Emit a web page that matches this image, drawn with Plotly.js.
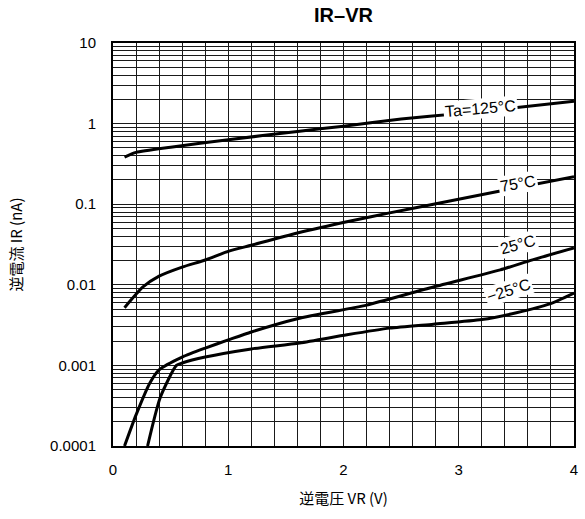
<!DOCTYPE html>
<html>
<head>
<meta charset="utf-8">
<script src="https://cdn.plot.ly/plotly-3.0.1.min.js"></script>
<style>html,body{margin:0;padding:0;background:#fff;}#chart{width:585px;height:519px;}</style>
</head>
<body>
<div id="chart"></div>
<script>
// Data
const vr125 = [0.1, 0.2, 0.5, 1.0, 1.6, 2.0, 2.5, 3.0, 3.4, 4.0];
const ir125 = [0.385, 0.44, 0.51, 0.63, 0.80, 0.93, 1.14, 1.33, 1.52, 1.9];

const vr75 = [0.1, 0.26, 0.4, 0.6, 0.8, 1.0, 1.2, 1.6, 2.06, 2.4, 2.78, 3.36, 4.0];
const ir75 = [0.0052, 0.0094, 0.0128, 0.0166, 0.0203, 0.026, 0.031, 0.044, 0.062, 0.078, 0.10, 0.146, 0.22];

const vr25 = [0.1, 0.2, 0.32, 0.4, 0.6, 0.8, 1.0, 1.2, 1.6, 2.06, 2.2, 2.78, 3.36, 3.64, 4.0];
const ir25 = [0.0001, 0.000243, 0.000605, 0.00088, 0.00127, 0.00164, 0.00207, 0.0026, 0.0038, 0.0051, 0.0056, 0.0094, 0.0153, 0.0204, 0.0286];

const vrm25 = [0.3, 0.41, 0.55, 0.6, 0.8, 1.2, 1.62, 2.03, 2.4, 2.78, 3.2, 3.5, 3.79, 4.0];
const irm25 = [0.0001, 0.0004, 0.001, 0.00107, 0.00127, 0.0016, 0.0019, 0.0024, 0.0029, 0.00325, 0.0037, 0.0045, 0.0058, 0.0079];

const curveLabels = ["Ta=125°C", "75°C", "25°C", "−25°C"];
const xTicks = [0, 1, 2, 3, 4];
const yTicks = [0.0001, 0.001, 0.01, 0.1, 1, 10];
const yTickText = ["0.0001", "0.001", "0.01", "0.1", "1", "10"];

const lineStyle = {color: '#000', width: 3, shape: 'spline', smoothing: 0.6};
const traces = [
  {x: vr125, y: ir125},
  {x: vr75, y: ir75},
  {x: vr25, y: ir25},
  {x: vrm25, y: irm25}
].map(t => Object.assign(t, {type: 'scatter', mode: 'lines', line: lineStyle, hoverinfo: 'skip', showlegend: false}));

// minor grid values for log axis
const yMinor = [];
for (let e = -4; e < 1; e++) for (let m = 2; m <= 9; m++) yMinor.push(m * Math.pow(10, e));

const labelPos = [
  {x: 0.881, y: 0.871, a: -5},
  {x: 0.926, y: 0.685, a: -10},
  {x: 0.926, y: 0.499, a: -15},
  {x: 0.915, y: 0.387, a: -18}
];
const annotations = curveLabels.map((t, i) => ({
  text: t, xref: 'paper', yref: 'paper', x: labelPos[i].x, y: labelPos[i].y,
  showarrow: false, textangle: labelPos[i].a, bgcolor: '#fff', borderpad: 1,
  font: {family: 'Liberation Sans, Arial, sans-serif', size: 16, color: '#000'}
}));

const gridCol = '#1a1a1a';
const layout = {
  width: 585, height: 519,
  margin: {l: 113, r: 11, t: 43, b: 73},
  paper_bgcolor: '#fff', plot_bgcolor: '#fff',
  title: {text: '<b>IR–VR</b>', x: 0.5, xanchor: 'center', y: 0.971, yanchor: 'middle',
    xref: 'paper', font: {family: 'Liberation Sans, Arial, sans-serif', size: 20, color: '#000'}},
  xaxis: {
    range: [0, 4], tickvals: xTicks, ticks: '', showline: true, linewidth: 2, linecolor: '#000', mirror: true,
    showgrid: true, gridcolor: gridCol, gridwidth: 1, zeroline: false, ticklabelstandoff: 9,
    minor: {dtick: 0.2, showgrid: true, gridcolor: gridCol, gridwidth: 1, ticks: ''},
    tickfont: {family: 'Liberation Sans, Arial, sans-serif', size: 15, color: '#000'},
    title: {text: '逆電圧 VR (V)', standoff: 16, font: {family: 'Noto Sans CJK JP, sans-serif', size: 15, color: '#000'}}
  },
  yaxis: {
    type: 'log', range: [-4, 1], tickvals: yTicks, ticktext: yTickText, ticks: '',
    showline: true, linewidth: 2, linecolor: '#000', mirror: true, ticklabelstandoff: 12,
    showgrid: true, gridcolor: gridCol, gridwidth: 1, zeroline: false,
    minor: {tickvals: yMinor, showgrid: true, gridcolor: gridCol, gridwidth: 1, ticks: ''},
    tickfont: {family: 'Liberation Sans, Arial, sans-serif', size: 15, color: '#000'},
    title: {text: '逆電流 IR (nA)', standoff: 24, font: {family: 'Noto Sans CJK JP, sans-serif', size: 15, color: '#000'}}
  },
  annotations: annotations
};

Plotly.newPlot('chart', traces, layout, {staticPlot: true, displayModeBar: false});
</script>
</body>
</html>
